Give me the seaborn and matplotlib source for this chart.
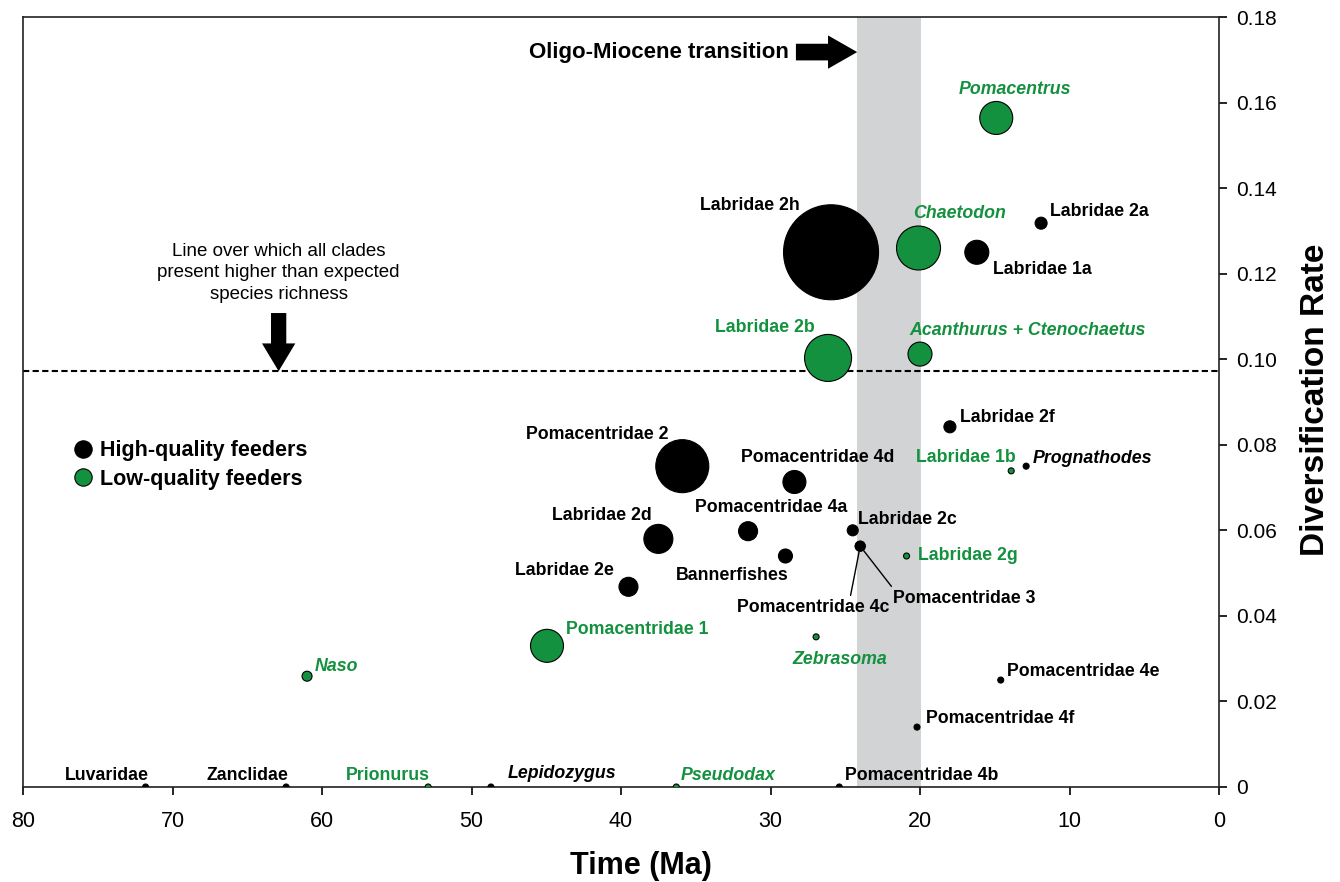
import numpy as np
import pandas as pd
import matplotlib as mpl
mpl.use('Agg')
import matplotlib.pyplot as plt
import seaborn as sns
from matplotlib.lines import Line2D

# clades: age (Ma), diversification rate, feeding group, bubble diameter (px)
clades = ['Luvaridae', 'Zanclidae', 'Prionurus', 'Lepidozygus', 'Pseudodax',
          'Pomacentridae 4b', 'Naso', 'Pomacentridae 1', 'Zebrasoma',
          'Labridae 2e', 'Labridae 2d', 'Pomacentridae 2', 'Pomacentridae 4d',
          'Pomacentridae 4a', 'Bannerfishes', 'Labridae 2c', 'Pomacentridae 3',
          'Pomacentridae 4c', 'Labridae 2g', 'Labridae 1b', 'Prognathodes',
          'Labridae 2f', 'Pomacentridae 4e', 'Pomacentridae 4f', 'Labridae 2b',
          'Acanthurus + Ctenochaetus', 'Labridae 2h', 'Chaetodon', 'Labridae 1a',
          'Labridae 2a', 'Pomacentrus']
age = [71.8, 62.4, 52.9, 48.7, 36.3,
       25.4, 61.0, 44.95, 26.95,
       39.5, 37.5, 35.9, 28.4,
       31.5, 29.0, 24.5, 24.0,
       24.0, 20.9, 13.9, 12.9,
       18.0, 14.6, 20.2, 26.15,
       20.0, 25.95, 20.1, 16.2,
       11.9, 14.9]
rate = [0.0, 0.0, 0.0, 0.0, 0.0,
        0.0, 0.0259, 0.033, 0.0351,
        0.0468, 0.058, 0.075, 0.0713,
        0.0598, 0.054, 0.060, 0.0563,
        0.0563, 0.054, 0.0739, 0.075,
        0.0842, 0.025, 0.014, 0.1003,
        0.1012, 0.125, 0.126, 0.125,
        0.1318, 0.1564]
feeder = ['High', 'High', 'Low', 'High', 'Low',
          'High', 'Low', 'Low', 'Low',
          'High', 'High', 'High', 'High',
          'High', 'High', 'High', 'High',
          'High', 'Low', 'Low', 'High',
          'High', 'High', 'High', 'Low',
          'Low', 'High', 'Low', 'High',
          'High', 'Low']
bubble = [6, 6, 6, 6, 6,
          6, 10, 33, 6,
          19, 29, 53, 23,
          19, 14, 11, 10,
          10, 6, 6, 6,
          12, 6, 6, 47,
          24, 95, 44, 24,
          12, 33]
italic = ['Lepidozygus', 'Pseudodax', 'Naso', 'Zebrasoma', 'Prognathodes',
          'Acanthurus + Ctenochaetus', 'Chaetodon', 'Pomacentrus']

threshold = 0.0972
transition = (24.2, 19.9)

# label placement: (dx, dy) in pixels from the dot, horizontal alignment
label_pos = {
    'Luvaridae': (3, 11, 'right'), 'Zanclidae': (2, 11, 'right'),
    'Prionurus': (2, 11, 'right'), 'Lepidozygus': (17, 13, 'left'),
    'Pseudodax': (4, 12, 'left'), 'Pomacentridae 4b': (6, 12, 'left'),
    'Naso': (8, 10, 'left'), 'Pomacentridae 1': (19, 16, 'left'),
    'Zebrasoma': (24, -23, 'center'), 'Labridae 2e': (-15, 16, 'right'),
    'Labridae 2d': (-7, 23, 'right'), 'Pomacentridae 2': (-14, 32, 'right'),
    'Pomacentridae 4d': (23, 24, 'center'), 'Pomacentridae 4a': (23, 24, 'center'),
    'Bannerfishes': (3, -19, 'right'), 'Labridae 2c': (5, 11, 'left'),
    'Pomacentridae 3': (33, -52, 'left'), 'Pomacentridae 4c': (-47, -61, 'center'),
    'Labridae 2g': (11, 0, 'left'), 'Labridae 1b': (5, 13, 'right'),
    'Prognathodes': (7, 8, 'left'), 'Labridae 2f': (10, 9, 'left'),
    'Pomacentridae 4e': (6, 9, 'left'), 'Pomacentridae 4f': (9, 9, 'left'),
    'Labridae 2b': (-13, 30, 'right'), 'Acanthurus + Ctenochaetus': (-11, 24, 'left'),
    'Labridae 2h': (-31, 47, 'right'), 'Chaetodon': (-5, 35, 'left'),
    'Labridae 1a': (16, -17, 'left'), 'Labridae 2a': (9, 12, 'left'),
    'Pomacentrus': (19, 28, 'center'),
}
leaders = {'Pomacentridae 3': (0.01, 0.95), 'Pomacentridae 4c': (0.74, 0.95)}

green = '#14913f'
palette = {'High': 'black', 'Low': green}

sns.set_theme(style='white')
plt.rcParams['font.family'] = ['Liberation Sans', 'DejaVu Sans']
plt.rcParams.update({'text.color': 'black', 'axes.labelcolor': 'black',
                     'xtick.color': 'black', 'ytick.color': 'black'})
narrow = ['Liberation Sans Narrow', 'Liberation Sans', 'DejaVu Sans']

df = pd.DataFrame({'clade': clades, 'age': age, 'rate': rate,
                   'feeder': feeder, 'bubble': bubble})
df['area'] = (df['bubble'] * 0.72) ** 2

fig = plt.figure(figsize=(13.4, 8.82), dpi=100)
ax = fig.add_axes([23 / 1340, 1 - 787 / 882, 1196 / 1340, 770 / 882])

ax.axvspan(*transition, color='#d1d3d5', lw=0, zorder=0)
ax.axhline(threshold, color='black', lw=1.5, ls=(0, (3, 1.6)), zorder=1)

amin, amax = df['area'].min(), df['area'].max()
sns.scatterplot(data=df, x='age', y='rate', hue='feeder', palette=palette,
                size='area', sizes=(amin, amax), size_norm=(amin, amax),
                edgecolor='black', linewidth=0.8, legend=False, ax=ax, zorder=3)

for _, row in df.iterrows():
    dx, dy, ha = label_pos[row['clade']]
    col = palette[row['feeder']]
    style = 'italic' if row['clade'] in italic else 'normal'
    arrow = None
    if row['clade'] in leaders:
        arrow = dict(arrowstyle='-', color='black', lw=1, shrinkA=0, shrinkB=3,
                     relpos=leaders[row['clade']])
    ax.annotate(row['clade'], xy=(row['age'], row['rate']), xytext=(dx, dy),
                textcoords='offset pixels', ha=ha, va='center', fontsize=12.8,
                fontweight='bold', fontstyle=style, color=col, arrowprops=arrow,
                zorder=4)

# Oligo-Miocene arrow
ax.annotate('', xy=(24.2, 0.1718), xytext=(28.3, 0.1718),
            arrowprops=dict(arrowstyle='simple,head_width=24,head_length=21,tail_width=12',
                            mutation_scale=1, color='black', lw=0, shrinkA=0, shrinkB=0))
ax.text(28.75, 0.1718, 'Oligo-Miocene transition', ha='right', va='center',
        fontsize=16, fontweight='bold')

# threshold arrow and note
ax.annotate('', xy=(62.9, 0.0972), xytext=(62.9, 0.1108),
            arrowprops=dict(arrowstyle='simple,head_width=24,head_length=20,tail_width=11',
                            mutation_scale=1, color='black', lw=0, shrinkA=0, shrinkB=0))
ax.text(62.9, 0.1202, 'Line over which all clades\npresent higher than expected\nspecies richness',
        ha='center', va='center', fontsize=13.5, linespacing=1.35)

handles = [Line2D([], [], marker='o', ls='', markersize=12.5, markerfacecolor=palette[g],
                  markeredgecolor='black', markeredgewidth=0.8) for g in ['High', 'Low']]
leg = ax.legend(handles, ['High-quality feeders', 'Low-quality feeders'],
                loc='center left', bbox_to_anchor=(0.041, 0.418), frameon=False,
                handlelength=1.0, handletextpad=0.3, labelspacing=0.35, borderpad=0,
                borderaxespad=0, prop=dict(weight='bold', size=15.5))

ax.set_xlim(80, 0)
ax.set_ylim(0, 0.18)
ax.set_xticks(np.arange(80, -1, -10))
ax.set_xticklabels([str(v) for v in range(80, -1, -10)], fontsize=15.5)
yt = np.arange(0, 0.181, 0.02)
ax.set_yticks(yt)
ax.set_yticklabels(['0'] + [f'{v:.2f}' for v in yt[1:]], fontsize=15)
ax.yaxis.tick_right()
ax.yaxis.set_label_position('right')
ax.tick_params(axis='both', direction='out', length=6, width=1.2, color='black',
               bottom=True, right=True, left=False, top=False)
ax.tick_params(axis='x', pad=11)
ax.tick_params(axis='y', pad=6)
for s in ax.spines.values():
    s.set_color('#222222')
    s.set_linewidth(1.2)

ax.set_xlabel('Time (Ma)', fontfamily=narrow, fontsize=22, fontweight='bold', va='center')
ax.xaxis.set_label_coords((641 - 23) / 1196, -(866 - 787) / 770)
ax.set_ylabel('Diversification Rate', fontfamily=narrow, fontsize=24, fontweight='bold',
              va='center')
ax.yaxis.set_label_coords((1315 - 23) / 1196, 0.5 + (787 - 400 - 385) / 770)

fig.savefig('out.png', dpi=100)
